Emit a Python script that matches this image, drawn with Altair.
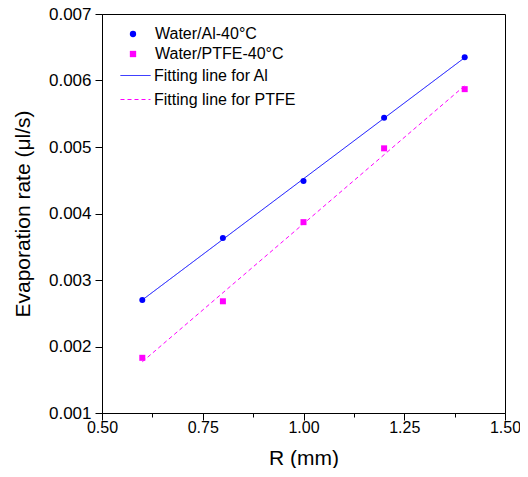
import altair as alt
import pandas as pd

R_values = [0.6, 0.8, 1.0, 1.2, 1.4]
rate_al = [0.00270, 0.00363, 0.00449, 0.00544, 0.00635]
rate_ptfe = [0.00183, 0.00268, 0.00387, 0.00498, 0.00587]
series_names = ["Water/Al-40°C", "Water/PTFE-40°C"]
fit_names = ["Fitting line for Al", "Fitting line for PTFE"]
x_major = [0.5, 0.75, 1.0, 1.25, 1.5]
x_minor = [0.625, 0.875, 1.125, 1.375]
y_major = [0.001, 0.002, 0.003, 0.004, 0.005, 0.006, 0.007]
y_minor = [0.0015, 0.0025, 0.0035, 0.0045, 0.0055, 0.0065]

rows = []
for r, a, p in zip(R_values, rate_al, rate_ptfe):
    rows.append({"R": r, "rate": a, "series": series_names[0], "fit": fit_names[0]})
    rows.append({"R": r, "rate": p, "series": series_names[1], "fit": fit_names[1]})
df = pd.DataFrame(rows)

FONT = "Liberation Sans"
BLUE = "#0000ff"
MAGENTA = "#ff00ff"

xminor_test = "indexof(" + str(x_minor) + ", datum.value) >= 0"
yminor_test = "indexof(" + str(y_minor) + ", datum.value) >= 0"

x_axis = alt.Axis(
    values=sorted(x_major + x_minor),
    labelExpr=f"{xminor_test} ? '' : format(datum.value, '.2f')",
    tickSize={"condition": {"test": xminor_test, "value": 4}, "value": 7},
    labelFlush=False, labelOverlap=False, grid=False, labelFontSize=16,
    labelPadding=-1, titlePadding=12, orient="bottom",
)
y_axis = alt.Axis(
    values=sorted(y_major + y_minor),
    labelExpr=f"{yminor_test} ? '' : format(datum.value, '.3f')",
    tickSize={"condition": {"test": yminor_test, "value": 4}, "value": 7},
    labelFlush=False, labelOverlap=False, grid=False, labelFontSize=17,
    labelPadding=4, titlePadding=15, orient="left",
)

xenc = alt.X("R:Q", scale=alt.Scale(domain=[0.5, 1.5], nice=False), axis=x_axis, title="R (mm)")
yenc = alt.Y("rate:Q", scale=alt.Scale(domain=[0.001, 0.007], nice=False, zero=False),
             axis=y_axis, title="Evaporation rate (μl/s)")

leg1 = dict(orient="none", legendX=23, legendY=12, title=None,
            symbolSize=40, labelOffset=14, rowPadding=4)
leg2 = dict(orient="none", legendX=18, legendY=46, title=None,
            symbolType="stroke", symbolSize=900, labelOffset=3,
            rowPadding=-10, symbolStrokeWidth=1)

points = alt.Chart(df).mark_point(filled=True, size=36, opacity=1).encode(
    x=xenc, y=yenc,
    color=alt.Color("series:N", scale=alt.Scale(domain=series_names, range=[BLUE, MAGENTA]),
                    legend=alt.Legend(**leg1)),
    shape=alt.Shape("series:N", scale=alt.Scale(domain=series_names, range=["circle", "square"]),
                    legend=alt.Legend(**leg1)),
)

lines = alt.Chart(df).transform_regression(
    "R", "rate", groupby=["fit"], extent=[0.6, 1.4]
).mark_line(strokeWidth=1).encode(
    x=alt.X("R:Q"), y=alt.Y("rate:Q"),
    color=alt.Color("fit:N", scale=alt.Scale(domain=fit_names, range=[BLUE, MAGENTA]),
                    legend=alt.Legend(**leg2)),
    strokeDash=alt.StrokeDash("fit:N", scale=alt.Scale(domain=fit_names, range=[[1, 0], [4, 3]]),
                              legend=alt.Legend(**leg2)),
)

chart = alt.layer(lines, points).resolve_scale(
    color="independent", shape="independent", strokeDash="independent"
).properties(
    width=403, height=399,
    background="white",
    autosize=alt.AutoSizeParams(type="none"),
    padding={"left": 94, "top": 6, "right": 15, "bottom": 55},
).configure_view(
    stroke="black", strokeWidth=1
).configure_axis(
    domainColor="black", tickColor="black", labelColor="black", titleColor="black",
    labelFont=FONT, titleFont=FONT, titleFontSize=21,
    titleFontWeight="normal", domainWidth=1, tickWidth=1,
).configure_legend(
    labelFont=FONT, labelFontSize=16, labelColor="black", padding=0,
)

chart.save("out.html", embed_options={"renderer": "svg", "actions": False})
